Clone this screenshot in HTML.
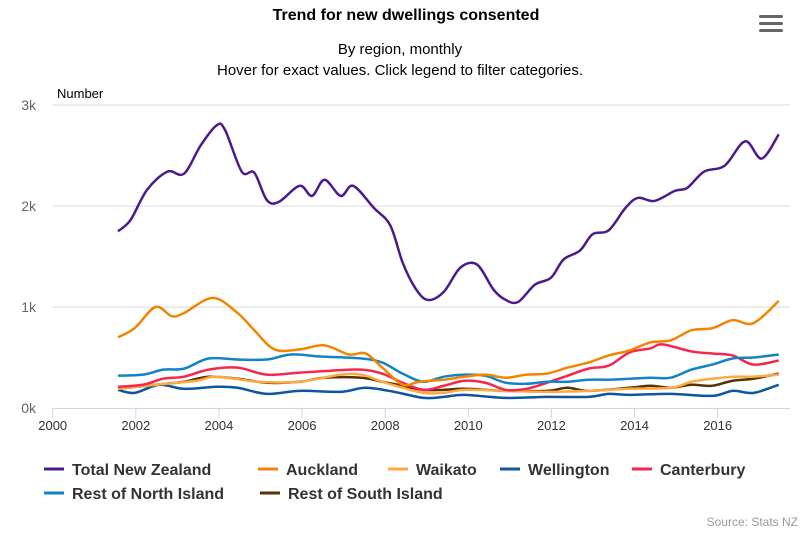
<!DOCTYPE html>
<html><head><meta charset="utf-8"><style>
body{margin:0;background:#fff;font-family:"Liberation Sans",Arial,sans-serif;}
svg text{font-family:"Liberation Sans",Arial,sans-serif;}
</style></head><body>
<svg id="c" width="812" height="532" xmlns="http://www.w3.org/2000/svg">
<text x="406" y="20" text-anchor="middle" font-size="16" font-weight="bold" fill="#000">Trend for new dwellings consented</text>
<text x="400" y="54" text-anchor="middle" font-size="15" fill="#000">By region, monthly</text>
<text x="400" y="75" text-anchor="middle" font-size="15" fill="#000">Hover for exact values. Click legend to filter categories.</text>
<g><rect x="759" y="15" width="24" height="3" rx="1.5" fill="#666"/><rect x="759" y="22" width="24" height="3" rx="1.5" fill="#666"/><rect x="759" y="29" width="24" height="3" rx="1.5" fill="#666"/></g>
<text x="57" y="98" font-size="13" fill="#000">Number</text>
<g id="grid"></g><g id="series"></g><g id="legend"></g>
<text x="798" y="526" text-anchor="end" font-size="12" fill="#999">Source: Stats NZ</text>
</svg>
<script>
const yTicks=[0,1000,2000,3000];
const yTickLabels=["0k","1k","2k","3k"];
const xTicks=[2000,2002,2004,2006,2008,2010,2012,2014,2016];
const seriesNames=["Total New Zealand","Auckland","Waikato","Wellington","Canterbury","Rest of North Island","Rest of South Island"];
const seriesColors=["#4b1b8e","#f28500","#ffa940","#0e56a0","#f5264f","#1383c6","#5a3100"];
const totalYears=[2001.57,2001.87,2002.27,2002.76,2003.16,2003.56,2003.95,2004.15,2004.55,2004.85,2005.15,2005.44,2005.94,2006.24,2006.54,2006.93,2007.23,2007.73,2008.12,2008.42,2008.72,2009.02,2009.41,2009.81,2010.21,2010.61,2010.90,2011.20,2011.60,2011.99,2012.29,2012.69,2012.99,2013.38,2013.78,2014.08,2014.48,2014.97,2015.27,2015.67,2016.17,2016.66,2017.06,2017.47];
const totalVals=[1750,1860,2160,2340,2320,2600,2800,2750,2340,2330,2060,2040,2200,2100,2260,2100,2200,1980,1810,1440,1190,1070,1150,1390,1420,1170,1070,1050,1220,1290,1470,1560,1720,1760,1980,2080,2050,2150,2180,2340,2400,2640,2470,2710];
const aklYears=[2001.57,2001.97,2002.47,2002.86,2003.16,2003.85,2004.45,2004.85,2005.34,2005.94,2006.54,2007.13,2007.53,2007.93,2008.42,2008.82,2009.41,2009.91,2010.41,2010.90,2011.40,2011.89,2012.39,2012.89,2013.38,2013.88,2014.38,2014.87,2015.37,2015.87,2016.36,2016.86,2017.47];
const aklVals=[700,790,1000,910,940,1090,940,770,580,580,620,530,540,400,230,260,280,310,330,300,330,340,400,450,520,570,650,670,770,790,870,840,1060];
const wkYears=[2001.57,2002.47,2003.46,2003.95,2004.95,2005.94,2006.93,2007.43,2007.93,2008.42,2008.92,2009.41,2009.91,2010.90,2011.89,2012.89,2013.88,2014.87,2015.37,2015.87,2016.36,2016.86,2017.47];
const wkVals=[190,230,270,310,260,260,330,330,260,200,150,150,180,170,160,170,190,200,260,290,310,310,330];
const wlgYears=[2001.57,2001.97,2002.56,2003.16,2003.95,2004.45,2005.15,2005.94,2006.93,2007.53,2008.22,2008.92,2009.41,2009.91,2010.90,2011.89,2012.89,2013.38,2013.88,2014.87,2015.87,2016.36,2016.86,2017.47];
const wlgVals=[180,150,230,190,210,200,140,170,160,200,160,100,110,130,100,110,110,140,130,140,120,170,150,230];
const canYears=[2001.57,2002.17,2002.66,2003.16,2003.75,2004.45,2005.15,2005.94,2006.73,2007.43,2007.93,2008.42,2008.92,2009.41,2009.91,2010.41,2010.90,2011.40,2011.89,2012.39,2012.89,2013.38,2013.88,2014.38,2014.67,2015.37,2015.87,2016.36,2016.86,2017.47];
const canVals=[210,230,290,310,380,400,330,350,370,380,340,250,180,220,270,250,180,190,250,320,390,420,550,590,630,560,540,520,430,470];
const rniYears=[2001.57,2002.17,2002.66,2003.16,2003.75,2004.45,2005.15,2005.74,2006.44,2007.43,2007.93,2008.42,2008.92,2009.41,2009.91,2010.41,2010.90,2011.40,2011.89,2012.39,2012.89,2013.38,2013.88,2014.38,2014.87,2015.37,2015.87,2016.36,2016.86,2017.47];
const rniVals=[320,330,380,390,490,480,480,530,510,490,450,340,260,310,330,320,250,240,260,260,280,280,290,300,300,380,430,490,500,530];
const rsiYears=[2001.57,2002.47,2003.16,2003.75,2004.45,2005.15,2005.94,2006.54,2007.43,2007.93,2008.42,2008.92,2009.41,2009.91,2010.90,2011.89,2012.39,2012.89,2013.88,2014.38,2014.87,2015.37,2015.87,2016.36,2016.86,2017.47];
const rsiVals=[190,230,260,310,290,250,260,300,300,260,220,180,180,190,170,170,200,170,200,220,200,230,220,270,290,340];
const seriesYears=[totalYears,aklYears,wkYears,wlgYears,canYears,rniYears,rsiYears];
const seriesVals=[totalVals,aklVals,wkVals,wlgVals,canVals,rniVals,rsiVals];

const NS="http://www.w3.org/2000/svg";
const X0=52.7,XW=41.56,Y0=408,YK=0.101,XR=790;
const xs=y=>X0+(y-2000)*XW, ys=v=>Y0-v*YK;
function mk(t,p,a){const e=document.createElementNS(NS,t);for(const k in a)e.setAttribute(k,a[k]);p.appendChild(e);return e;}
const grid=document.getElementById('grid');
yTicks.forEach((t,i)=>{
 if(t>0){const l=mk('line',grid,{x1:X0,x2:XR,y1:ys(t),y2:ys(t),stroke:'#d8d8d8','stroke-width':1});
 
 }
 const tx=mk('text',grid,{x:36,y:ys(t)+5,'text-anchor':'end','font-size':14,fill:'#666'});tx.textContent=yTickLabels[i];
 
 
});
const ax=mk('line',grid,{x1:X0,x2:XR,y1:Y0+0.5,y2:Y0+0.5,stroke:'#ccd6eb','stroke-width':1});


xTicks.forEach(t=>{
 const tk=mk('line',grid,{x1:xs(t),x2:xs(t),y1:Y0,y2:Y0+10,stroke:'#ccd6eb'});
 
 
 const tx=mk('text',grid,{x:xs(t),y:Y0+22,'text-anchor':'middle','font-size':13,fill:'#333'});tx.textContent=t;
 
 
});
function path(xa,va){
 const p=xa.map((x,i)=>[xs(x),ys(va[i])]);
 let d='M'+p[0][0]+','+p[0][1];
 for(let i=0;i<p.length-1;i++){
  const p0=p[i-1]||p[i],p1=p[i],p2=p[i+1],p3=p[i+2]||p2;
  const c1=[p1[0]+(p2[0]-p0[0])/6,p1[1]+(p2[1]-p0[1])/6],c2=[p2[0]-(p3[0]-p1[0])/6,p2[1]-(p3[1]-p1[1])/6];
  d+=` C${c1[0]},${c1[1]} ${c2[0]},${c2[1]} ${p2[0]},${p2[1]}`;
 }
 return d;
}
const sg=document.getElementById('series');
const order=[6,3,2,4,5,1,0];
order.forEach(i=>{
 const el=mk('path',sg,{d:path(seriesYears[i],seriesVals[i]),fill:'none',stroke:seriesColors[i],'stroke-width':2.5,'stroke-linejoin':'round'});
 
 
});
const lg=document.getElementById('legend');
const lpos=[[44,469],[258,469],[388,469],[500,469],[632,469],[44,493],[260,493]];
seriesNames.forEach((n,i)=>{
 const g=mk('g',lg,{});
 
 
 const [x,y]=lpos[i];
 mk('line',g,{x1:x,x2:x+20,y1:y,y2:y,stroke:seriesColors[i],'stroke-width':3});
 const t=mk('text',g,{x:x+28,y:y+6,'font-size':16,'font-weight':'bold',fill:'#333'});t.textContent=n;
});
</script>
</body></html>
